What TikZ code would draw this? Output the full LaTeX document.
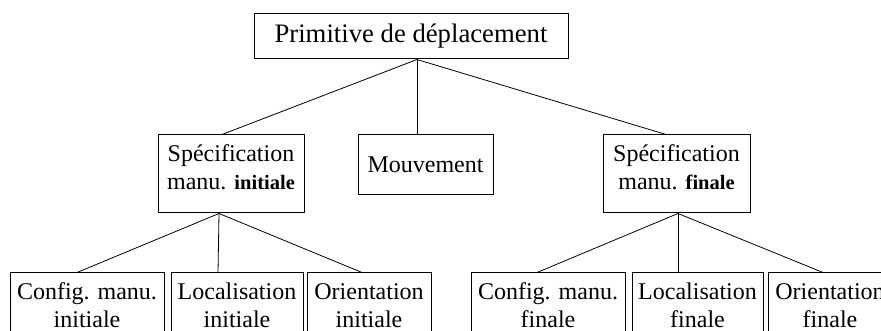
\documentclass[tikz,border=0pt]{standalone}
\usepackage{fontspec}
\setmainfont{Liberation Serif}
\newcommand{\bld}[1]{{\fontsize{20.5}{28}\selectfont\bfseries #1}}
\newcommand{\twolines}[2]{\rule{0pt}{27pt}#1\\#2\rule[-23pt]{0pt}{23pt}}
\begin{document}
\begin{tikzpicture}[x=1pt,y=1pt,
  box/.style={draw, line width=1pt, inner sep=0pt, align=center, font=\fontsize{24}{28}\selectfont},
  link/.style={line width=0.8pt}]
\useasboundingbox (0,0) rectangle (881,331);
\clip (0,0) rectangle (881,331);
% nodes
\node[box, minimum width=314pt, minimum height=45pt, font=\fontsize{26.7}{28}\selectfont] (top) at (411,294.5) {Primitive de déplacement};
\node[box, minimum width=146pt, minimum height=78pt] (si) at (231,157) {\twolines{Spécification}{manu. \bld{initiale}}};
\node[box, minimum width=135pt, minimum height=60pt] (mv) at (425.5,166) {Mouvement};
\node[box, minimum width=147pt, minimum height=78pt] (sf) at (676.5,157) {\twolines{Spécification}{manu. \bld{finale}}};
\node[box, minimum width=154pt, minimum height=78pt] (ci) at (87,19) {\twolines{Config. manu.}{initiale}};
\node[box, minimum width=132pt, minimum height=78pt] (li) at (237,19) {\twolines{Localisation}{initiale}};
\node[box, minimum width=124pt, minimum height=78pt] (oi) at (369,19) {\twolines{Orientation}{initiale}};
\node[box, minimum width=154pt, minimum height=78pt] (cf) at (548,19) {\twolines{Config. manu.}{finale}};
\node[box, minimum width=131pt, minimum height=78pt] (lf) at (697.5,19) {\twolines{Localisation}{finale}};
\node[box, minimum width=124pt, minimum height=78pt] (of) at (830,19) {\twolines{Orientation}{finale}};
% hubs
\coordinate (h0) at (top.south -| 417,0);
\coordinate (h1) at (si.south -| 219,0);
\coordinate (h2) at (sf.south -| 678,0);
% connectors
\draw[link] (h0) -- (si.north -| 222,0);
\draw[link] (h0) -- (mv.north -| 417,0);
\draw[link] (h0) -- (sf.north -| 666,0);
\draw[link] (h1) -- (ci.north -| 77,0);
\draw[link] (h1) -- (li.north -| 218,0);
\draw[link] (h1) -- (oi.north -| 362,0);
\draw[link] (h2) -- (cf.north -| 537,0);
\draw[link] (h2) -- (lf.north -| 678,0);
\draw[link] (h2) -- (of.north -| 823,0);
\end{tikzpicture}
\end{document}
